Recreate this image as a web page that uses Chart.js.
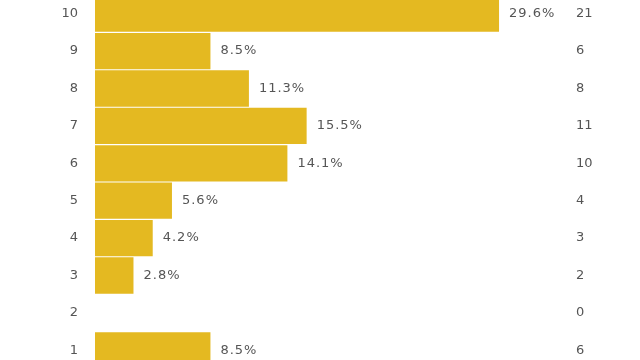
<!DOCTYPE html>
<html>
<head>
<meta charset="utf-8">
<script src="https://cdn.jsdelivr.net/npm/chart.js@4/dist/chart.umd.min.js"></script>
<style>
html,body{margin:0;padding:0;width:640px;height:360px;overflow:hidden;background:#fff;}
#wrap{position:absolute;left:0;top:-5px;width:640px;height:374px;}
</style>
</head>
<body>
<div id="wrap"><canvas id="c" width="640" height="374"></canvas></div>
<script>
const categories = ['10','9','8','7','6','5','4','3','2','1'];
const counts = [21, 6, 8, 11, 10, 4, 3, 2, 0, 6];
const countLabels = counts.map(String);
const total = counts.reduce((a,b)=>a+b,0);

const FONT = {family: '"DejaVu Sans", Verdana, sans-serif', size: 13};
const TXT = '#555555';

const pctPlugin = {
  id: 'pct',
  afterDatasetsDraw(chart){
    const ctx = chart.ctx;
    const meta = chart.getDatasetMeta(0);
    ctx.save();
    ctx.font = '13px "DejaVu Sans", Verdana, sans-serif';
    ctx.fillStyle = TXT;
    ctx.textAlign = 'left';
    ctx.textBaseline = 'middle';
    try { ctx.letterSpacing = '1px'; } catch(e) {}
    meta.data.forEach((bar, i) => {
      if (!counts[i]) return;
      const p = (counts[i] / total * 100).toFixed(1) + '%';
      ctx.fillText(p, bar.x + 10, bar.y);
    });
    ctx.restore();
  }
};

function fixV(width){
  return function(s){ s.width = width; s.paddingTop = 0; s.paddingBottom = 0; };
}

const noGrid = {display: false, drawTicks: false, tickLength: 0};

new Chart(document.getElementById('c'), {
  type: 'bar',
  data: {
    labels: categories,
    datasets: [{
      data: counts,
      backgroundColor: '#E4B921',
      borderWidth: 0,
      categoryPercentage: 1,
      barPercentage: 0.97
    }]
  },
  options: {
    indexAxis: 'y',
    responsive: false,
    animation: false,
    events: [],
    layout: {padding: 0},
    plugins: {legend: {display: false}, tooltip: {enabled: false}},
    scales: {
      x: {display: false, min: 0, max: 25},
      y: {
        position: 'left',
        grid: noGrid,
        border: {display: false},
        ticks: {color: TXT, font: FONT, padding: 17},
        afterFit: fixV(95)
      },
      y2: {
        type: 'category',
        position: 'right',
        labels: countLabels,
        grid: noGrid,
        border: {display: false},
        ticks: {color: TXT, font: FONT, padding: 0},
        afterFit: fixV(64)
      }
    }
  },
  plugins: [pctPlugin]
});
</script>
</body>
</html>
